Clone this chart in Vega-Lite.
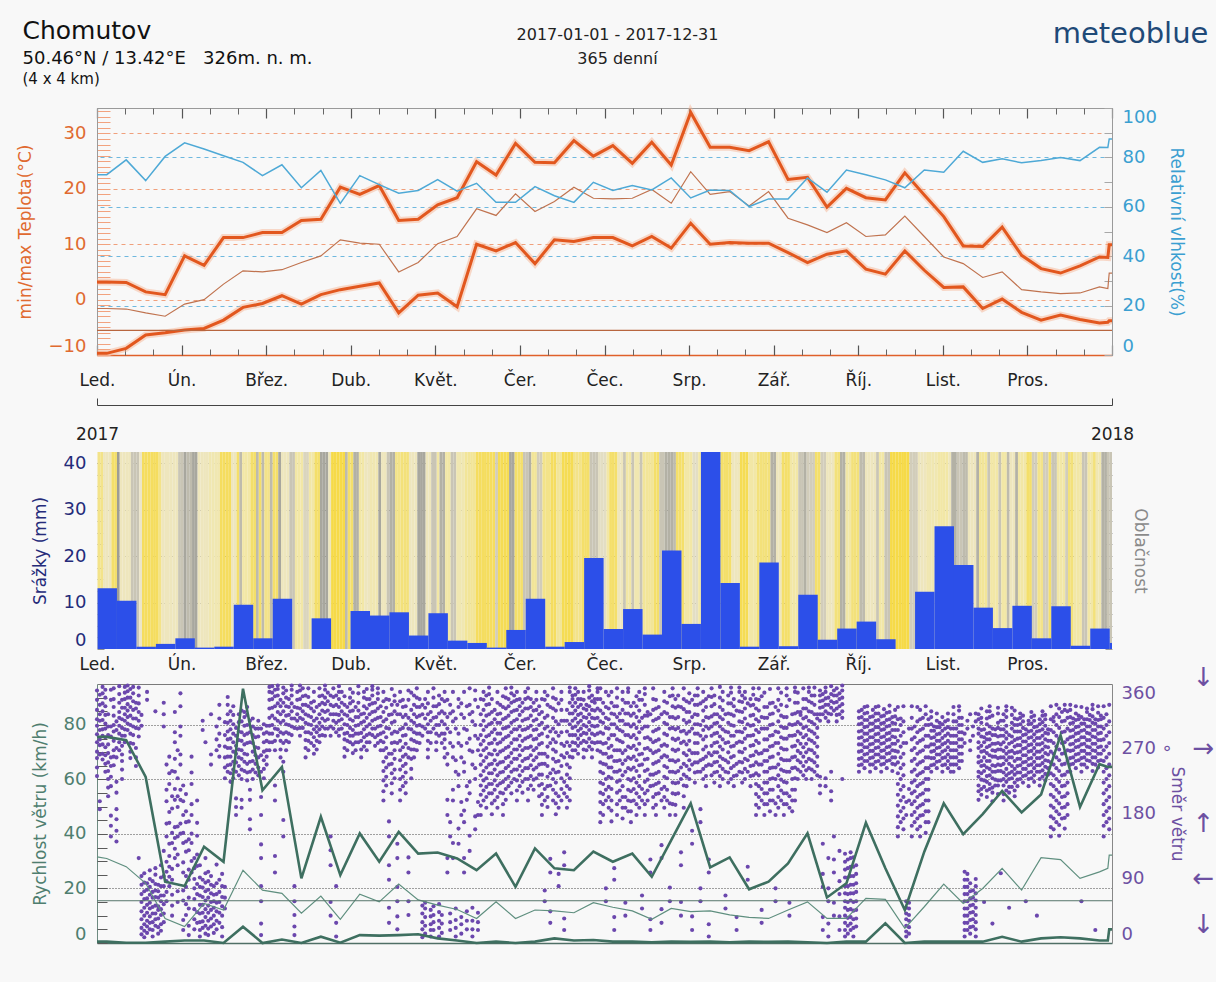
{
"$schema": "https://vega.github.io/schema/vega-lite/v6.json",
"width": 1015,
"height": 835,
"autosize": {"type": "none"},
"padding": {"left": 97, "top": 108, "right": 104, "bottom": 39},
"background": "#f8f8f8",
"config": {"view": {"stroke": null}, "font": "DejaVu Sans", "axis": {"labelFont": "DejaVu Sans", "titleFont": "DejaVu Sans", "titleFontWeight": "normal", "labelOverlap": false, "grid": false}},
"datasets": {
"wk": [
{"d":0,"tmax":3.2,"tmean":-1.6,"tmin":-9.7,"rh":73.0,"vmax":75.6,"vmean":31.6,"vmin":0.5},
{"d":3.5,"tmax":3.2,"tmean":-1.6,"tmin":-9.7,"rh":73.0,"vmax":75.6,"vmean":31.0,"vmin":0.5},
{"d":10.5,"tmax":3.1,"tmean":-1.7,"tmin":-8.8,"rh":79.0,"vmax":74.4,"vmean":28.0,"vmin":0.1},
{"d":17.5,"tmax":1.4,"tmean":-2.4,"tmin":-6.4,"rh":70.6,"vmax":60.9,"vmean":21.9,"vmin":0.1},
{"d":24.5,"tmax":0.9,"tmean":-3.0,"tmin":-6.0,"rh":80.4,"vmax":22.5,"vmean":9.0,"vmin":0.5},
{"d":31.5,"tmax":7.9,"tmean":-0.8,"tmin":-5.5,"rh":85.9,"vmax":20.9,"vmean":6.0,"vmin":0.9},
{"d":38.5,"tmax":6.2,"tmean":0.0,"tmin":-5.2,"rh":83.4,"vmax":35.3,"vmean":14.5,"vmin":0.9},
{"d":45.5,"tmax":11.2,"tmean":2.8,"tmin":-3.7,"rh":80.7,"vmax":29.8,"vmean":12.1,"vmin":0},
{"d":52.5,"tmax":11.2,"tmean":5.2,"tmin":-1.4,"rh":78.0,"vmax":93.3,"vmean":26.7,"vmin":6.0},
{"d":59.5,"tmax":12.1,"tmean":5.0,"tmin":-0.7,"rh":72.6,"vmax":56.0,"vmean":19.4,"vmin":0},
{"d":66.5,"tmax":12.1,"tmean":5.4,"tmin":0.7,"rh":77.0,"vmax":64.6,"vmean":18.2,"vmin":1.3},
{"d":73.5,"tmax":14.3,"tmean":6.7,"tmin":-0.8,"rh":67.7,"vmax":23.7,"vmean":10.9,"vmin":0},
{"d":80.5,"tmax":14.5,"tmean":7.9,"tmin":0.9,"rh":74.7,"vmax":46.3,"vmean":17.2,"vmin":2.3},
{"d":87.5,"tmax":20.3,"tmean":10.8,"tmin":1.8,"rh":61.4,"vmax":24.9,"vmean":8.7,"vmin":0.1},
{"d":94.5,"tmax":19.0,"tmean":10.2,"tmin":2.4,"rh":72.6,"vmax":40.2,"vmean":17.9,"vmin":2.9},
{"d":101.5,"tmax":20.6,"tmean":10.0,"tmin":3.0,"rh":69.0,"vmax":29.8,"vmean":15.1,"vmin":2.7},
{"d":108.5,"tmax":14.3,"tmean":5.0,"tmin":-2.4,"rh":65.5,"vmax":40.8,"vmean":21.6,"vmin":2.9},
{"d":115.5,"tmax":14.5,"tmean":6.7,"tmin":0.8,"rh":66.6,"vmax":32.8,"vmean":15.8,"vmin":3.2},
{"d":122.5,"tmax":17.1,"tmean":10.1,"tmin":1.2,"rh":71.0,"vmax":33.2,"vmean":13.9,"vmin":1.7},
{"d":129.5,"tmax":18.4,"tmean":11.4,"tmin":-1.3,"rh":66.3,"vmax":31.0,"vmean":12.3,"vmin":0.9},
{"d":136.5,"tmax":24.9,"tmean":16.4,"tmin":10.0,"rh":69.5,"vmax":26.7,"vmean":9.0,"vmin":0},
{"d":143.5,"tmax":22.5,"tmean":15.2,"tmin":8.8,"rh":61.8,"vmax":32.8,"vmean":15.1,"vmin":0.5},
{"d":150.5,"tmax":28.2,"tmean":19.1,"tmin":10.3,"rh":61.8,"vmax":20.6,"vmean":9.0,"vmin":0},
{"d":157.5,"tmax":24.8,"tmean":15.9,"tmin":6.5,"rh":68.2,"vmax":34.7,"vmean":12.1,"vmin":0.5},
{"d":164.5,"tmax":24.7,"tmean":17.7,"tmin":10.8,"rh":64.5,"vmax":27.4,"vmean":11.8,"vmin":1.7},
{"d":171.5,"tmax":28.7,"tmean":20.3,"tmin":10.5,"rh":61.8,"vmax":26.7,"vmean":11.1,"vmin":0.9},
{"d":178.5,"tmax":25.9,"tmean":18.3,"tmin":11.2,"rh":69.9,"vmax":33.5,"vmean":14.8,"vmin":1.1},
{"d":185.5,"tmax":27.8,"tmean":18.2,"tmin":11.2,"rh":66.6,"vmax":29.8,"vmean":13.1,"vmin":0.5},
{"d":192.5,"tmax":24.6,"tmean":18.3,"tmin":9.7,"rh":68.6,"vmax":32.8,"vmean":11.8,"vmin":0.5},
{"d":199.5,"tmax":28.4,"tmean":19.9,"tmin":11.4,"rh":66.8,"vmax":24.3,"vmean":8.7,"vmin":0.3},
{"d":206.5,"tmax":24.3,"tmean":17.4,"tmin":9.3,"rh":71.7,"vmax":37.7,"vmean":12.7,"vmin":0.5},
{"d":213.5,"tmax":33.8,"tmean":23.1,"tmin":13.8,"rh":63.6,"vmax":51.2,"vmean":11.5,"vmin":0.4},
{"d":220.5,"tmax":27.5,"tmean":19.0,"tmin":10.0,"rh":66.8,"vmax":27.7,"vmean":11.8,"vmin":0.5},
{"d":227.5,"tmax":27.5,"tmean":19.5,"tmin":10.3,"rh":66.6,"vmax":31.4,"vmean":10.3,"vmin":0.3},
{"d":234.5,"tmax":26.9,"tmean":16.9,"tmin":10.2,"rh":60.1,"vmax":19.7,"vmean":9.4,"vmin":0.5},
{"d":241.5,"tmax":28.5,"tmean":19.5,"tmin":10.2,"rh":63.2,"vmax":22.5,"vmean":9.0,"vmin":0.4},
{"d":248.5,"tmax":21.7,"tmean":14.7,"tmin":8.5,"rh":63.2,"vmax":29.2,"vmean":12.1,"vmin":0.5},
{"d":255.5,"tmax":22.1,"tmean":13.5,"tmin":6.7,"rh":71.7,"vmax":40.2,"vmean":15.1,"vmin":0.3},
{"d":262.5,"tmax":16.7,"tmean":12.1,"tmin":8.2,"rh":65.9,"vmax":16.7,"vmean":9.0,"vmin":0},
{"d":269.5,"tmax":20.1,"tmean":13.9,"tmin":8.8,"rh":74.9,"vmax":21.9,"vmean":9.0,"vmin":0.5},
{"d":276.5,"tmax":18.4,"tmean":11.4,"tmin":5.5,"rh":73.0,"vmax":44.1,"vmean":16.4,"vmin":0.5},
{"d":283.5,"tmax":18.0,"tmean":11.7,"tmin":4.6,"rh":70.9,"vmax":27.4,"vmean":16.0,"vmin":7.2},
{"d":290.5,"tmax":22.9,"tmean":15.1,"tmin":8.8,"rh":67.7,"vmax":12.1,"vmean":5.4,"vmin":0},
{"d":297.5,"tmax":18.9,"tmean":11.4,"tmin":5.3,"rh":74.9,"vmax":33.5,"vmean":13.3,"vmin":0.5},
{"d":304.5,"tmax":15.0,"tmean":7.7,"tmin":2.2,"rh":74.0,"vmax":51.2,"vmean":21.6,"vmin":0.5},
{"d":311.5,"tmax":9.7,"tmean":6.5,"tmin":2.3,"rh":82.5,"vmax":39.9,"vmean":14.5,"vmin":0.5},
{"d":318.5,"tmax":9.6,"tmean":4.0,"tmin":-1.6,"rh":78.0,"vmax":47.3,"vmean":20.0,"vmin":0.5},
{"d":325.5,"tmax":13.1,"tmean":5.0,"tmin":0.1,"rh":79.4,"vmax":55.8,"vmean":27.4,"vmin":2.3},
{"d":332.5,"tmax":8.0,"tmean":1.8,"tmin":-2.3,"rh":77.8,"vmax":47.9,"vmean":19.4,"vmin":0.5},
{"d":339.5,"tmax":5.6,"tmean":1.4,"tmin":-3.7,"rh":78.7,"vmax":54.5,"vmean":31.3,"vmin":1.7},
{"d":346.5,"tmax":4.8,"tmean":1.1,"tmin":-2.8,"rh":80.0,"vmax":76.2,"vmean":30.6,"vmin":2.1},
{"d":353.5,"tmax":6.1,"tmean":1.2,"tmin":-3.6,"rh":78.7,"vmax":49.9,"vmean":23.7,"vmin":1.7},
{"d":360.5,"tmax":7.7,"tmean":2.3,"tmin":-4.2,"rh":84.1,"vmax":65.6,"vmean":26.1,"vmin":0.9},
{"d":363.5,"tmax":7.6,"tmean":2.0,"tmin":-4.1,"rh":84.0,"vmax":64.6,"vmean":27.4,"vmin":0.9},
{"d":364,"tmax":9.9,"tmean":4.8,"tmin":-3.8,"rh":87.5,"vmax":64.6,"vmean":32.2,"vmin":5.0},
{"d":365,"tmax":9.9,"tmean":4.8,"tmin":-3.8,"rh":87.5,"vmax":64.6,"vmean":32.2,"vmin":5.0}
],
"pr": [{"d":0,"p":13.1},{"d":7,"p":10.4},{"d":14,"p":0.5},{"d":21,"p":1.1},{"d":28,"p":2.3},{"d":35,"p":0.3},{"d":42,"p":0.5},{"d":49,"p":9.5},{"d":56,"p":2.3},{"d":63,"p":10.8},{"d":70,"p":0},{"d":77,"p":6.6},{"d":84,"p":0},{"d":91,"p":8.2},{"d":98,"p":7.2},{"d":105,"p":7.9},{"d":112,"p":2.9},{"d":119,"p":7.7},{"d":126,"p":1.8},{"d":133,"p":1.3},{"d":140,"p":0.3},{"d":147,"p":4.1},{"d":154,"p":10.8},{"d":161,"p":0.5},{"d":168,"p":1.5},{"d":175,"p":19.6},{"d":182,"p":4.3},{"d":189,"p":8.6},{"d":196,"p":3.1},{"d":203,"p":21.2},{"d":210,"p":5.4},{"d":217,"p":44},{"d":224,"p":14.2},{"d":231,"p":0.5},{"d":238,"p":18.6},{"d":245,"p":0.6},{"d":252,"p":11.7},{"d":259,"p":2.0},{"d":266,"p":4.4},{"d":273,"p":5.9},{"d":280,"p":2.1},{"d":287,"p":0},{"d":294,"p":12.3},{"d":301,"p":26.4},{"d":308,"p":18.1},{"d":315,"p":8.9},{"d":322,"p":4.5},{"d":329,"p":9.3},{"d":336,"p":2.3},{"d":343,"p":9.2},{"d":350,"p":0.7},{"d":357,"p":4.4},{"d":364,"p":1.3}],
"cl": [{"d":0,"c":30},{"d":1,"c":30},{"d":2,"c":50},{"d":3,"c":50},{"d":4,"c":50},{"d":5,"c":20},{"d":6,"c":20},{"d":7,"c":95},{"d":8,"c":50},{"d":9,"c":50},{"d":10,"c":50},{"d":11,"c":50},{"d":12,"c":75},{"d":13,"c":75},{"d":14,"c":75},{"d":15,"c":55},{"d":16,"c":15},{"d":17,"c":15},{"d":18,"c":15},{"d":19,"c":15},{"d":20,"c":15},{"d":21,"c":15},{"d":22,"c":30},{"d":23,"c":50},{"d":24,"c":50},{"d":25,"c":50},{"d":26,"c":50},{"d":27,"c":50},{"d":28,"c":50},{"d":29,"c":75},{"d":30,"c":75},{"d":31,"c":90},{"d":32,"c":80},{"d":33,"c":80},{"d":34,"c":90},{"d":35,"c":90},{"d":36,"c":50},{"d":37,"c":50},{"d":38,"c":50},{"d":39,"c":50},{"d":40,"c":45},{"d":41,"c":45},{"d":42,"c":45},{"d":43,"c":45},{"d":44,"c":15},{"d":45,"c":15},{"d":46,"c":15},{"d":47,"c":15},{"d":48,"c":50},{"d":49,"c":50},{"d":50,"c":20},{"d":51,"c":80},{"d":52,"c":40},{"d":53,"c":40},{"d":54,"c":40},{"d":55,"c":20},{"d":56,"c":20},{"d":57,"c":80},{"d":58,"c":20},{"d":59,"c":80},{"d":60,"c":30},{"d":61,"c":30},{"d":62,"c":80},{"d":63,"c":20},{"d":64,"c":20},{"d":65,"c":90},{"d":66,"c":50},{"d":67,"c":50},{"d":68,"c":50},{"d":69,"c":75},{"d":70,"c":75},{"d":71,"c":40},{"d":72,"c":40},{"d":73,"c":40},{"d":74,"c":65},{"d":75,"c":65},{"d":76,"c":40},{"d":77,"c":40},{"d":78,"c":20},{"d":79,"c":20},{"d":80,"c":90},{"d":81,"c":90},{"d":82,"c":90},{"d":83,"c":50},{"d":84,"c":5},{"d":85,"c":5},{"d":86,"c":5},{"d":87,"c":5},{"d":88,"c":5},{"d":89,"c":80},{"d":90,"c":20},
{"d":91,"c":20},{"d":92,"c":85},{"d":93,"c":85},{"d":94,"c":40},{"d":95,"c":40},{"d":96,"c":50},{"d":97,"c":50},{"d":98,"c":45},{"d":99,"c":45},{"d":100,"c":45},{"d":101,"c":90},{"d":102,"c":50},{"d":103,"c":50},{"d":104,"c":75},{"d":105,"c":85},{"d":106,"c":85},{"d":107,"c":30},{"d":108,"c":30},{"d":109,"c":25},{"d":110,"c":25},{"d":111,"c":25},{"d":112,"c":50},{"d":113,"c":50},{"d":114,"c":50},{"d":115,"c":90},{"d":116,"c":90},{"d":117,"c":90},{"d":118,"c":50},{"d":119,"c":50},{"d":120,"c":75},{"d":121,"c":75},{"d":122,"c":40},{"d":123,"c":85},{"d":124,"c":85},{"d":125,"c":40},{"d":126,"c":40},{"d":127,"c":75},{"d":128,"c":75},{"d":129,"c":45},{"d":130,"c":45},{"d":131,"c":45},{"d":132,"c":35},{"d":133,"c":35},{"d":134,"c":35},{"d":135,"c":35},{"d":136,"c":15},{"d":137,"c":15},{"d":138,"c":15},{"d":139,"c":15},{"d":140,"c":15},{"d":141,"c":15},{"d":142,"c":15},{"d":143,"c":70},{"d":144,"c":10},{"d":145,"c":10},{"d":146,"c":10},{"d":147,"c":10},{"d":148,"c":90},{"d":149,"c":90},{"d":150,"c":20},{"d":151,"c":20},{"d":152,"c":20},{"d":153,"c":75},{"d":154,"c":75},{"d":155,"c":85},{"d":156,"c":35},{"d":157,"c":35},{"d":158,"c":70},{"d":159,"c":70},{"d":160,"c":30},{"d":161,"c":30},{"d":162,"c":30},{"d":163,"c":15},{"d":164,"c":15},{"d":165,"c":35},{"d":166,"c":35},{"d":167,"c":10},{"d":168,"c":10},{"d":169,"c":10},{"d":170,"c":10},{"d":171,"c":30},{"d":172,"c":30},{"d":173,"c":30},{"d":174,"c":20},{"d":175,"c":20},{"d":176,"c":20},{"d":177,"c":75},{"d":178,"c":75},{"d":179,"c":75},{"d":180,"c":60},{"d":181,"c":60},{"d":182,"c":60},
{"d":183,"c":40},{"d":184,"c":20},{"d":185,"c":20},{"d":186,"c":20},{"d":187,"c":50},{"d":188,"c":50},{"d":189,"c":75},{"d":190,"c":40},{"d":191,"c":40},{"d":192,"c":75},{"d":193,"c":45},{"d":194,"c":45},{"d":195,"c":75},{"d":196,"c":35},{"d":197,"c":35},{"d":198,"c":35},{"d":199,"c":35},{"d":200,"c":20},{"d":201,"c":20},{"d":202,"c":75},{"d":203,"c":75},{"d":204,"c":85},{"d":205,"c":85},{"d":206,"c":85},{"d":207,"c":80},{"d":208,"c":20},{"d":209,"c":20},{"d":210,"c":20},{"d":211,"c":40},{"d":212,"c":40},{"d":213,"c":40},{"d":214,"c":60},{"d":215,"c":60},{"d":216,"c":40},{"d":217,"c":40},{"d":218,"c":40},{"d":219,"c":40},{"d":220,"c":40},{"d":221,"c":40},{"d":222,"c":40},{"d":223,"c":40},{"d":224,"c":20},{"d":225,"c":20},{"d":226,"c":20},{"d":227,"c":20},{"d":228,"c":50},{"d":229,"c":50},{"d":230,"c":50},{"d":231,"c":10},{"d":232,"c":10},{"d":233,"c":10},{"d":234,"c":40},{"d":235,"c":40},{"d":236,"c":40},{"d":237,"c":25},{"d":238,"c":25},{"d":239,"c":25},{"d":240,"c":25},{"d":241,"c":25},{"d":242,"c":85},{"d":243,"c":85},{"d":244,"c":50},{"d":245,"c":50},{"d":246,"c":20},{"d":247,"c":20},{"d":248,"c":20},{"d":249,"c":40},{"d":250,"c":40},{"d":251,"c":40},{"d":252,"c":75},{"d":253,"c":75},{"d":254,"c":85},{"d":255,"c":70},{"d":256,"c":70},{"d":257,"c":70},{"d":258,"c":20},{"d":259,"c":20},{"d":260,"c":70},{"d":261,"c":70},{"d":262,"c":50},{"d":263,"c":50},{"d":264,"c":50},{"d":265,"c":25},{"d":266,"c":25},{"d":267,"c":85},{"d":268,"c":85},{"d":269,"c":40},{"d":270,"c":40},{"d":271,"c":25},{"d":272,"c":25},{"d":273,"c":25},
{"d":274,"c":80},{"d":275,"c":80},{"d":276,"c":50},{"d":277,"c":50},{"d":278,"c":50},{"d":279,"c":50},{"d":280,"c":75},{"d":281,"c":40},{"d":282,"c":40},{"d":283,"c":75},{"d":284,"c":75},{"d":285,"c":5},{"d":286,"c":5},{"d":287,"c":5},{"d":288,"c":5},{"d":289,"c":5},{"d":290,"c":5},{"d":291,"c":5},{"d":292,"c":70},{"d":293,"c":70},{"d":294,"c":70},{"d":295,"c":50},{"d":296,"c":50},{"d":297,"c":50},{"d":298,"c":45},{"d":299,"c":45},{"d":300,"c":45},{"d":301,"c":45},{"d":302,"c":40},{"d":303,"c":40},{"d":304,"c":40},{"d":305,"c":40},{"d":306,"c":50},{"d":307,"c":85},{"d":308,"c":85},{"d":309,"c":75},{"d":310,"c":75},{"d":311,"c":80},{"d":312,"c":80},{"d":313,"c":50},{"d":314,"c":50},{"d":315,"c":50},{"d":316,"c":85},{"d":317,"c":35},{"d":318,"c":35},{"d":319,"c":35},{"d":320,"c":75},{"d":321,"c":40},{"d":322,"c":40},{"d":323,"c":40},{"d":324,"c":75},{"d":325,"c":40},{"d":326,"c":40},{"d":327,"c":80},{"d":328,"c":50},{"d":329,"c":50},{"d":330,"c":85},{"d":331,"c":40},{"d":332,"c":40},{"d":333,"c":40},{"d":334,"c":20},{"d":335,"c":20},{"d":336,"c":70},{"d":337,"c":70},{"d":338,"c":30},{"d":339,"c":30},{"d":340,"c":70},{"d":341,"c":70},{"d":342,"c":20},{"d":343,"c":75},{"d":344,"c":75},{"d":345,"c":40},{"d":346,"c":40},{"d":347,"c":40},{"d":348,"c":70},{"d":349,"c":25},{"d":350,"c":25},{"d":351,"c":40},{"d":352,"c":40},{"d":353,"c":40},{"d":354,"c":75},{"d":355,"c":75},{"d":356,"c":40},{"d":357,"c":40},{"d":358,"c":25},{"d":359,"c":45},{"d":360,"c":45},{"d":361,"c":85},{"d":362,"c":85},{"d":363,"c":75},{"d":364,"c":75}],
"wd": [
{"d":0,"w":[232,244,257,266,279,290,302,311,324,338,351]},{"d":1,"w":[186,197,262,275,283,296,309,318,331,345]},{"d":2,"w":[255,263,276,288,297,310,322,333,347,356]},{"d":3,"w":[238,249,261,272,286,298,305,317,329,341,352]},{"d":4,"w":[204,216,228,239,251,264,276,289,301,318]},{"d":5,"w":[148,163,177,218,231,246,258,287,301,338,352]},{"d":6,"w":[247,259,268,281,294,303,316,328,339,354]},{"d":7,"w":[141,156,172,186,209,224,258,271,296,308]},{"d":8,"w":[268,279,291,302,313,321,334,346,357]},{"d":9,"w":[228,241,253,262,274,288,299,311,327,338]},
{"d":10,"w":[279,288,297,309,318,327,339,348,356]},{"d":11,"w":[296,305,314,323,332,341,350,358]},{"d":12,"w":[257,266,278,291,303,316,328,341,353]},{"d":13,"w":[277,289,301,312,324,336,347,356]},{"d":14,"w":[246,258,271,299,312,326,334]},{"d":15,"w":[118,287,298,309,321,333,344,355]},{"d":16,"w":[12,21,33,44,57,68,81,93,302,317]},{"d":17,"w":[8,17,26,38,49,61,72,84,97]},{"d":18,"w":[14,23,31,42,53,62,74,83,338,349]},{"d":19,"w":[19,28,37,48,56,67,78,89,101]},
{"d":20,"w":[9,18,29,41,50,63,71,86]},{"d":21,"w":[24,33,41,52,64,73,82,95,104,322]},{"d":22,"w":[13,22,34,46,51,63,72,81]},{"d":23,"w":[17,26,39,47,58,66,79,91,108]},{"d":24,"w":[29,41,54,66,79,93,128,301,318,334]},{"d":25,"w":[58,71,86,99,113,148,166,197,213,248]},{"d":26,"w":[79,92,106,121,138,167,182,221,236,259]},{"d":27,"w":[38,52,67,88,103,139,153,187,204,239]},{"d":28,"w":[118,131,146,161,199,214,238,256,279,293,321]},{"d":29,"w":[57,72,108,123,148,162,189,204,229,268]},
{"d":30,"w":[152,166,199,213,248,262,288,301,329,347]},{"d":31,"w":[18,32,59,73,98,112,139,153,178,197,219]},{"d":32,"w":[39,54,78,93,127,141,168,183,207]},{"d":33,"w":[11,24,48,63,88,102,129,144,169]},{"d":34,"w":[98,114,139,152,178,193,221,237,259]},{"d":35,"w":[19,33,47,61,76,89,104,118]},{"d":36,"w":[28,43,68,82,107,123,149,167,198]},{"d":37,"w":[9,18,29,41,53,66,78,91,108]},{"d":38,"w":[21,30,42,53,64,77,88,296,309]},{"d":39,"w":[13,24,36,47,59,72,84,97,118,279]},
{"d":40,"w":[11,20,31,42,52,63,74,86,99]},{"d":41,"w":[23,34,46,57,69,81,93,248,262,318]},{"d":42,"w":[14,26,38,49,58,67,79]},{"d":43,"w":[19,31,44,56,68,83,109,268,283,301]},{"d":44,"w":[28,42,57,71,88,259,274,291,312,331]},{"d":45,"w":[9,22,38,51,64,79,96]},{"d":46,"w":[48,63,78,229,244,258,273,289,307]},{"d":47,"w":[238,247,259,271,283,294,306,318,331,342]},{"d":48,"w":[224,236,248,259,271,284,297,309,322]},{"d":49,"w":[229,241,252,266,279,291,304,317,329]},
{"d":50,"w":[178,189,201,238,251,263,274,288,299]},{"d":51,"w":[233,246,258,269,282,294,307,318]},{"d":52,"w":[188,199,228,241,256,268,281,293,308,323]},{"d":53,"w":[239,252,263,276,289,302,314,321]},{"d":54,"w":[226,237,249,262,278,291,303,317,328]},{"d":55,"w":[158,172,199,213,238,252,279,293,309]},{"d":56,"w":[228,241,253,266,278,289,301,312]},{"d":57,"w":[237,249,261,272,286,298]},{"d":58,"w":[233,244,258,271,287,298,309]},{"d":59,"w":[11,27,58,79,118,137,178,203,238,261,298]},
{"d":60,"w":[229,242,254,266,279,291,304]},{"d":61,"w":[248,259,268,281,293,302]},{"d":62,"w":[268,279,291,302,313,326,338,349,356]},{"d":63,"w":[279,291,303,316,327,339,348,357]},{"d":64,"w":[98,121,198,219,268,281,298,312,329,343,352]},{"d":65,"w":[288,297,309,321,333,344,353,358]},{"d":66,"w":[258,269,281,293,306,318,329,338]},{"d":67,"w":[148,171,238,252,278,291,309,322,334,347,355]},{"d":68,"w":[268,281,293,304,316,329,341,351]},{"d":69,"w":[279,291,303,317,328,339]},
{"d":70,"w":[289,301,312,322,333,344,352,358]},{"d":71,"w":[11,23,39,58,79,299,312,328]},{"d":72,"w":[298,309,318,327,338,349]},{"d":73,"w":[288,299,313,326,339,351,358]},{"d":74,"w":[299,311,322,331,343,354]},{"d":75,"w":[258,271,282,293,306,318,331,344]},{"d":76,"w":[268,281,293,304,316,329,342,354]},{"d":77,"w":[278,291,303,314,326,334]},{"d":78,"w":[263,274,286,297,309,322,336,349]},{"d":79,"w":[269,281,293,301,312,328]},
{"d":80,"w":[279,288,297,306,318,331,343,354]},{"d":81,"w":[289,301,312,323,334,344]},{"d":82,"w":[288,298,309,321,332,341,352,358]},{"d":83,"w":[298,311,323,336,348]},{"d":84,"w":[38,57,108,129,148,288,301,318,331,344]},{"d":85,"w":[298,309,318,329,342,354]},{"d":86,"w":[9,28,79,293,306,318,331,344]},{"d":87,"w":[288,297,309,317,328,339,349,357]},{"d":88,"w":[298,311,322,334,349]},{"d":89,"w":[259,271,283,291,304,318,331,343]},
{"d":90,"w":[268,281,292,303,316,328]},{"d":91,"w":[279,288,299,311,322,333,341,353]},{"d":92,"w":[264,276,288,296,309,323,336,348]},{"d":93,"w":[268,279,291,302,314,328]},{"d":94,"w":[279,291,303,314,323,334,347,357]},{"d":95,"w":[258,269,281,292,306,318]},{"d":96,"w":[273,286,297,308,319,329,341,349]},{"d":97,"w":[268,279,289,301,313,326,339,353]},{"d":98,"w":[279,291,304,318,331,339]},{"d":99,"w":[289,298,309,321,333,344,352,357]},
{"d":100,"w":[274,286,298,311,322,334]},{"d":101,"w":[278,289,301,313,326,339,347,354]},{"d":102,"w":[268,281,291,302,314,329]},{"d":103,"w":[198,211,226,239,252,268,279,293,308,321,336,349]},{"d":104,"w":[219,231,244,258,271,286,299,311,327,339]},{"d":105,"w":[28,49,88,108,148,169,248,263,298,317,338]},{"d":106,"w":[208,222,236,249,263,278,291,306,318,331,353]},{"d":107,"w":[229,241,256,268,279,294,308,322,336,344]},{"d":108,"w":[19,37,58,78,118,138,278,293,318,331]},{"d":109,"w":[198,213,228,241,254,268,281,297,318,336,349]},
{"d":110,"w":[218,231,246,259,272,288,299,314,328,338]},{"d":111,"w":[208,223,237,249,262,277,289,304,317,329]},{"d":112,"w":[39,58,98,119,258,271,298,313,338,351]},{"d":113,"w":[229,242,256,269,283,297,309,324,348]},{"d":114,"w":[258,269,281,293,306,318,331,344]},{"d":115,"w":[268,279,291,302,314,328,341,354]},{"d":116,"w":[278,291,303,316,328,339]},{"d":117,"w":[8,19,29,41,52,288,301,318,331]},{"d":118,"w":[13,24,36,48,56,298,312,327,339]},{"d":119,"w":[258,269,281,293,304,318,333,349]},
{"d":120,"w":[9,18,26,37,46,278,293,309,321]},{"d":121,"w":[18,29,39,51,298,313,329,341,354]},{"d":122,"w":[268,279,291,303,314,329]},{"d":123,"w":[9,21,31,43,54,288,303,319,332,344]},{"d":124,"w":[14,27,39,278,291,308,322,339]},{"d":125,"w":[258,271,283,291,304,319,336,349]},{"d":126,"w":[98,118,178,199,248,263,298,314,338]},{"d":127,"w":[18,29,41,148,168,278,293,319,331]},{"d":128,"w":[118,139,198,213,258,273,308,322,349]},{"d":129,"w":[9,21,32,48,238,254,298,312]},
{"d":130,"w":[138,159,218,234,278,291,328,339]},{"d":131,"w":[13,26,36,178,196,258,274,318,333]},{"d":132,"w":[98,118,168,184,238,251,298,313,349]},{"d":133,"w":[19,31,44,199,218,278,296,329]},{"d":134,"w":[128,149,208,224,268,284,318,331,354]},{"d":135,"w":[9,19,31,49,248,266,308,321]},{"d":136,"w":[158,176,228,243,288,303,338,351]},{"d":137,"w":[18,29,42,178,196,268,284,328]},{"d":138,"w":[178,191,206,219,233,248,261,276,289,303,318,339]},{"d":139,"w":[198,212,226,239,253,268,281,296,309,324,338,349]},
{"d":140,"w":[188,203,217,229,244,258,271,287,301,316,331,344]},{"d":141,"w":[208,221,236,248,263,277,289,304,318,332,346,355]},{"d":142,"w":[179,194,208,221,236,249,262,278,293,306,321,339]},{"d":143,"w":[198,213,226,241,254,268,283,297,311,324]},{"d":144,"w":[188,203,219,233,248,262,277,291,306,318,334,349]},{"d":145,"w":[209,222,237,251,266,279,291,306,319,331]},{"d":146,"w":[178,193,208,224,238,252,268,283,298,311,328,343]},{"d":147,"w":[199,214,228,243,257,271,286,299,313,326,341,354]},{"d":148,"w":[218,231,246,259,273,288,301,316,329,339]},{"d":149,"w":[208,223,238,251,264,278,293,306,321,334,347,355]},
{"d":150,"w":[228,241,256,269,283,297,309,323,336,344]},{"d":151,"w":[198,212,226,241,256,269,283,297,311,324,338,349]},{"d":152,"w":[218,233,246,261,274,288,301,317,329,339]},{"d":153,"w":[209,224,239,253,268,281,296,309,322,334]},{"d":154,"w":[228,243,256,271,284,297,311,326,339,349]},{"d":155,"w":[198,214,228,243,257,271,286,299,312,326,341,354]},{"d":156,"w":[219,232,247,261,273,288,302,316,328,339]},{"d":157,"w":[213,227,241,254,268,283,296,309,323,334]},{"d":158,"w":[229,244,258,271,284,297,311,324,338,349]},{"d":159,"w":[204,219,234,248,263,276,289,303,318,329]},
{"d":160,"w":[178,192,207,221,234,249,263,278,291,306,321,339]},{"d":161,"w":[58,73,198,214,249,263,298,313,338,349]},{"d":162,"w":[189,203,218,231,246,259,273,287,301,316,331,344]},{"d":163,"w":[28,44,98,117,219,236,278,294,328]},{"d":164,"w":[198,213,228,241,256,269,283,298,313,326,341,354]},{"d":165,"w":[179,194,208,223,237,252,266,279,293,308,323,339]},{"d":166,"w":[79,96,188,204,238,253,288,304,333]},{"d":167,"w":[198,214,229,246,261,277,293,309,324,338,349]},{"d":168,"w":[18,34,108,126,208,224,258,274,309]},{"d":169,"w":[188,203,218,234,248,264,279,294,309,324]},
{"d":170,"w":[198,214,229,244,259,274,289,304,319,334,349,355]},{"d":171,"w":[258,268,279,289,299,309,319,329,339,344]},{"d":172,"w":[268,278,289,301,312,323,334,345,354]},{"d":173,"w":[263,274,284,295,306,317,328,339,349]},{"d":174,"w":[278,289,298,309,319,331,339]},{"d":175,"w":[258,269,281,292,303,314,326,338,349]},{"d":176,"w":[268,279,291,301,313,324,331]},{"d":177,"w":[273,284,296,307,318,329,341,351,357]},{"d":178,"w":[258,269,279,291,302,313,324,336,344]},{"d":179,"w":[278,289,301,312,323,334,339]},
{"d":180,"w":[268,279,291,302,313,326,339,349,354]},{"d":181,"w":[168,181,196,209,223,238,251,266,279,293,308,323,339,354]},{"d":182,"w":[178,193,207,221,236,249,263,277,291,306,319,334]},{"d":183,"w":[58,76,198,213,228,248,263,278,299,313,328,349]},{"d":184,"w":[188,203,217,231,244,258,271,284,298,311,326,344]},{"d":185,"w":[169,184,198,214,229,244,259,274,289,304,319,334,349]},{"d":186,"w":[18,36,88,104,238,253,268,289,304,318,329]},{"d":187,"w":[178,193,209,224,238,253,268,283,299,314,329,341,354]},{"d":188,"w":[198,212,226,240,254,268,281,296,309,319]},{"d":189,"w":[173,188,203,218,233,249,264,279,294,309,324,338,349]},
{"d":190,"w":[38,56,188,203,238,254,268,289,304,319,334]},{"d":191,"w":[183,198,213,228,243,258,273,289,304,319,334,349,354]},{"d":192,"w":[168,183,197,211,226,241,256,271,286,301,316,329]},{"d":193,"w":[198,214,229,244,259,274,289,304,319,334]},{"d":194,"w":[178,193,208,223,239,254,269,284,299,314,329,343]},{"d":195,"w":[188,203,218,232,247,262,277,293,308,323,338,349]},{"d":196,"w":[48,66,198,214,248,263,298,313,338]},{"d":197,"w":[178,193,208,224,239,255,270,285,301,316,331,346,354]},{"d":198,"w":[198,212,227,241,256,271,286,301,316,321]},{"d":199,"w":[18,33,98,116,218,234,268,283,318]},
{"d":200,"w":[188,203,219,234,249,264,279,294,309,324,339,354]},{"d":201,"w":[178,192,207,221,236,251,266,281,296,311,326,338]},{"d":202,"w":[208,223,238,253,268,283,298,313,328]},{"d":203,"w":[28,47,118,136,198,214,258,274,318]},{"d":204,"w":[188,203,217,231,246,261,276,291,306,321,336,349]},{"d":205,"w":[198,213,229,244,259,274,289,304,319,334]},{"d":206,"w":[58,77,178,194,238,254,298,314,343]},{"d":207,"w":[193,208,223,238,254,269,284,299,314,329,344,354]},{"d":208,"w":[178,192,207,222,237,252,267,282,297,312,327,339]},{"d":209,"w":[208,223,239,254,269,284,299,314,329,344]},
{"d":210,"w":[38,57,108,126,228,244,278,294,328]},{"d":211,"w":[188,204,219,234,249,264,280,295,310,325,339,354]},{"d":212,"w":[218,231,246,261,276,291,306,321,336]},{"d":213,"w":[228,241,254,268,281,294,308,321,334,347]},{"d":214,"w":[18,37,138,156,248,264,298,314,338]},{"d":215,"w":[223,237,251,264,278,291,304,318,331,344]},{"d":216,"w":[238,251,264,278,291,304,317,331,344,354]},{"d":217,"w":[58,76,168,186,238,254,288,303,333]},{"d":218,"w":[228,242,256,269,283,296,309,323,336,349]},{"d":219,"w":[218,232,246,259,273,287,301,314,328,339]},
{"d":220,"w":[9,26,98,116,248,264,298,313,343]},{"d":221,"w":[233,247,261,274,288,301,315,329,342,354]},{"d":222,"w":[223,237,251,265,278,291,305,318,332,344]},{"d":223,"w":[238,252,265,279,292,306,318]},{"d":224,"w":[218,232,246,259,273,287,301,314,328,341,356]},{"d":225,"w":[228,242,256,269,283,297,311,324,337,349]},{"d":226,"w":[48,66,238,254,278,294,318]},{"d":227,"w":[223,237,251,265,279,293,306,319,333,344]},{"d":228,"w":[228,243,258,273,288,303,318,333,348,355]},{"d":229,"w":[218,232,246,260,274,288,302,316,329,339]},
{"d":230,"w":[18,36,233,249,278,294,323]},{"d":231,"w":[238,252,266,280,294,308,322,336,349,355]},{"d":232,"w":[223,237,251,265,279,293,307,321,335,344]},{"d":233,"w":[228,242,256,270,284,298,312,326,340,349]},{"d":234,"w":[88,106,238,254,288,304,333]},{"d":235,"w":[218,232,246,260,274,288,302,316,330,339]},{"d":236,"w":[233,247,261,275,289,303,317,331,345,354]},{"d":237,"w":[178,192,207,221,236,251,266,281,296,311,326,339]},{"d":238,"w":[188,203,218,233,248,263,278,293,308,323,338,354]},{"d":239,"w":[28,46,198,214,248,264,298,314,343]},
{"d":240,"w":[178,193,208,223,238,253,268,283,298,313,328,348]},{"d":241,"w":[193,208,223,238,253,268,283,298,313,328]},{"d":242,"w":[183,198,213,228,243,258,273,288,303,318,333,353]},{"d":243,"w":[198,213,229,244,259,274,289,304,319,334]},{"d":244,"w":[58,76,178,194,228,244,278,294,328]},{"d":245,"w":[188,203,218,233,248,263,278,293,308,323,338,354]},{"d":246,"w":[198,212,227,241,256,271,286,301,316,331,348]},{"d":247,"w":[178,193,208,224,239,254,269,284,299,314]},{"d":248,"w":[193,208,223,238,254,269,284,299,314,329,344,354]},{"d":249,"w":[38,56,188,204,238,254,288,304,338]},
{"d":250,"w":[183,198,213,228,243,258,273,288,303,318]},{"d":251,"w":[198,213,229,244,259,274,289,304,319,334,349,355]},{"d":252,"w":[228,241,254,267,281,294,307,321,334,348]},{"d":253,"w":[238,251,264,277,291,304,317,321]},{"d":254,"w":[233,246,259,272,286,299,312,326,339,354]},{"d":255,"w":[228,240,252,265,277,289,301,314,326,339]},{"d":256,"w":[243,256,269,283,296,309,322,336,349,355]},{"d":257,"w":[228,241,254,268,281,294,307,321,334,344]},{"d":258,"w":[238,251,264,278,291,304,318,331,344,355]},{"d":259,"w":[233,246,259,273,286,299,312,318]},
{"d":260,"w":[208,219,231,309,318,327,336,344,351]},{"d":261,"w":[18,36,78,96,138,318,328,337,346]},{"d":262,"w":[218,229,313,322,331,340,349,355]},{"d":263,"w":[9,27,58,76,118,308,319,331,341]},{"d":264,"w":[198,211,238,318,327,336,346,357]},{"d":265,"w":[38,56,98,116,148,323,334,344,351]},{"d":266,"w":[308,317,326,335,344,354]},{"d":267,"w":[18,37,68,86,128,318,329,339,347]},{"d":268,"w":[228,313,322,332,341,351,358]},{"d":269,"w":[9,18,28,38,49,58,69,79,91,102,113,124]},
{"d":270,"w":[13,24,35,46,57,68,79,91,104,116]},{"d":271,"w":[18,27,36,47,59,69,81,93,106,118,126]},{"d":272,"w":[9,21,33,45,57,69,81,93,106,119]},{"d":273,"w":[23,34,46,58,71,83,96,108]},{"d":274,"w":[238,247,256,266,276,285,294,304,313,322]},{"d":275,"w":[248,257,267,276,286,295,305,314,324]},{"d":276,"w":[243,253,262,272,281,291,300,310,319,328]},{"d":277,"w":[253,263,272,282,291,301,310,320,329]},{"d":278,"w":[238,248,257,267,276,286,295,305,314]},{"d":279,"w":[248,258,267,277,286,296,305,315,324]},
{"d":280,"w":[243,252,262,271,281,290,300,309,319,328]},{"d":281,"w":[253,262,272,281,291,300,310,319,329]},{"d":282,"w":[238,248,258,267,277,286,296,305,315]},{"d":283,"w":[249,258,268,278,287,297,306,316,325]},{"d":284,"w":[243,253,263,272,282,291,301,310,320]},{"d":285,"w":[254,264,273,283,292,302,311,321,330]},{"d":286,"w":[239,249,258,268,277,287,296,306,314]},{"d":287,"w":[248,258,267,277,286,296,305,315,324]},{"d":288,"w":[148,161,176,191,206,221,236,251,266,281,296,311,328]},{"d":289,"w":[168,183,198,213,228,243,258,273,288,303,312]},
{"d":290,"w":[158,173,188,203,218,233,248,263,278,293,308,329]},{"d":291,"w":[9,16,24,33,41,49,58,178,196,278]},{"d":292,"w":[13,22,31,39,48,56,198,214,298]},{"d":293,"w":[148,163,178,193,208,223,238,253,268,283,298,313,329]},{"d":294,"w":[168,182,197,211,226,241,256,271,286,301]},{"d":295,"w":[158,173,188,203,218,233,248,263,278,293,308,328]},{"d":296,"w":[148,162,177,191,206,221,236,251,266,281,296,311,324]},{"d":297,"w":[178,193,208,223,238,253,268,283,298,313]},{"d":298,"w":[153,168,183,198,213,228,243,258,273,288,303,318,329]},{"d":299,"w":[168,183,198,213,228,243,258,273,288,303,311]},
{"d":300,"w":[238,247,257,266,276,285,295,304,314,322]},{"d":301,"w":[248,257,267,276,286,295,301]},{"d":302,"w":[243,252,262,271,281,290,300,309,319]},{"d":303,"w":[253,262,272,281,291,300,306]},{"d":304,"w":[238,247,257,266,276,285,295,304,314]},{"d":305,"w":[248,258,268,278,288,298,308]},{"d":306,"w":[243,253,262,272,281,291,300,310,319]},{"d":307,"w":[238,248,258,268,278,288,298]},{"d":308,"w":[238,248,258,268,278,288,298,308,318,328]},{"d":309,"w":[248,258,268,278,288,298,308]},
{"d":310,"w":[243,253,263,273,283,293,303,313,323,329]},{"d":311,"w":[253,263,273,283,293,303,313]},{"d":312,"w":[9,18,28,38,48,58,68,78,88,99,278,291]},{"d":313,"w":[18,28,38,48,58,68,78,88,96,298,309]},{"d":314,"w":[13,22,32,42,52,62,72,83,268,281,318]},{"d":315,"w":[23,33,43,53,63,73,288,301]},{"d":316,"w":[9,19,29,39,49,59,69,79,89,308,319]},{"d":317,"w":[199,211,219,231,238,251,259,271,279,291,298,311,318]},{"d":318,"w":[206,214,227,236,246,253,266,274,287,296,306,313,326]},{"d":319,"w":[57,217,226,239,247,258,267,279,286,297]},
{"d":320,"w":[203,212,224,232,244,253,264,272,283,291,304,312,322]},{"d":321,"w":[214,221,233,242,253,261,274,283,292,301,314,322,329]},{"d":322,"w":[27,197,209,216,229,238,247,259,268,277,289,298,316]},{"d":323,"w":[219,227,238,246,259,267,277,289,297]},{"d":324,"w":[207,219,226,239,248,257,269,278,287,299,306,319,327]},{"d":325,"w":[97,226,239,247,258,269,276,288,297,309]},{"d":326,"w":[198,207,219,228,237,249,258,267,279,288,297,309,318]},{"d":327,"w":[212,224,233,242,254,263,272,284,293,302,314,323,329]},{"d":328,"w":[49,209,217,228,236,249,258,266,277,289]},{"d":329,"w":[217,229,238,246,258,267,279,287,298,306,317,327]},
{"d":330,"w":[204,212,223,234,242,253,264,273,282,294,303,312,323]},{"d":331,"w":[218,227,237,246,256,265,275,284,294,303,311]},{"d":332,"w":[228,237,247,256,266,275,285,294,304,313,319]},{"d":333,"w":[223,232,242,251,261,270,280,289,299,308,316]},{"d":334,"w":[58,233,242,252,261,271,280,290,297]},{"d":335,"w":[218,228,237,247,256,266,275,285,294,304,309]},{"d":336,"w":[229,238,248,257,267,276,286,295,305,314,321]},{"d":337,"w":[224,233,243,252,262,271,281,290,300,309,316]},{"d":338,"w":[38,238,247,257,266,276,285,294,301]},{"d":339,"w":[219,228,238,247,257,266,276,285,295,304,311]},
{"d":340,"w":[231,240,250,259,269,278,288,297,307,316,322]},{"d":341,"w":[226,235,245,254,264,273,283,292,302,311,317]},{"d":342,"w":[234,243,253,262,272,281,291,297]},{"d":343,"w":[148,161,176,191,206,221,236,251,266,281,296,311,329]},{"d":344,"w":[158,173,188,203,218,233,248,263,278,293,308,314]},{"d":345,"w":[168,183,198,213,228,243,258,273,288,303,318,331]},{"d":346,"w":[149,164,179,194,209,224,239,254,269,284,299,314,326]},{"d":347,"w":[173,188,203,218,233,248,263,278,293,308,321]},{"d":348,"w":[159,174,189,204,219,234,249,264,279,294,309,324,331]},{"d":349,"w":[178,193,208,223,238,253,268,283,298,313,322]},
{"d":350,"w":[238,248,257,267,276,286,295,305,314,324,331]},{"d":351,"w":[249,258,268,277,287,296,306,312]},{"d":352,"w":[243,253,262,272,281,291,300,310,319,329]},{"d":353,"w":[254,263,273,282,292,301,311,316]},{"d":354,"w":[58,238,248,257,267,276,286,295,305,314,328]},{"d":355,"w":[248,258,267,277,286,296,305,311]},{"d":356,"w":[244,254,263,273,282,292,301,311,321,326]},{"d":357,"w":[253,263,272,282,291,301,310,317]},{"d":358,"w":[239,249,258,268,277,287,296,306,315,325,331]},{"d":359,"w":[18,248,258,267,277,286,296,305,311]},
{"d":360,"w":[244,253,263,272,282,291,301,310,320,329]},{"d":361,"w":[254,263,273,282,292,301,311,316]},{"d":362,"w":[148,163,178,193,208,223,238,253,268,283,298,313,329]},{"d":363,"w":[168,183,198,213,228,243,258,273,288,303,318]},{"d":364,"w":[158,173,188,203,218,233,248,263,278,293,308,331]}
]
},
"layer": [
{
"layer": [
{"data": {"name": "cl"}, "mark": {"type": "bar", "binSpacing": 0, "clip": true},
 "encoding": {
  "x": {"field": "d", "type": "quantitative", "bin": {"step": 1, "extent": [0, 365]}, "scale": {"domain": [0, 365], "nice": false, "zero": false},
        "axis": {"orient": "bottom", "offset": -588, "domain": true, "domainColor": "#e0602a", "domainWidth": 1.5, "ticks": false, "values": [0,30.4167,60.8333,91.25,121.6667,152.0833,182.5,212.9167,243.3333,273.75,304.1667,334.5833], "labelExpr": "['Led.','Ún.','Břez.','Dub.','Květ.','Čer.','Čec.','Srp.','Zář.','Říj.','List.','Pros.'][round(datum.value/30.4167)]", "labelFontSize": 17, "labelColor": "#222222", "labelPadding": 17, "labelFlush": false, "labelAlign": "center", "labelBaseline": "top", "grid": false, "title": null}},
  "y": {"datum": 0, "type": "quantitative", "scale": {"domain": [0, 42.4], "range": [541, 344], "nice": false, "zero": false, "clamp": true},
        "axis": {"orient": "right", "offset": -7, "values": [0,2.5,5,7.5,10,12.5,15,17.5,20,22.5,25,27.5,30,32.5,35,37.5,40], "tickSize": 7, "tickColor": "#9a9a9a", "domain": false, "labels": false, "grid": false, "title": "Oblačnost", "titleColor": "#8a8a8a", "titleFontSize": 17, "titlePadding": 18}},
  "y2": {"datum": 42.4},
  "color": {"field": "c", "type": "quantitative", "scale": {"domain": [0, 20, 40, 55, 75, 95], "range": ["#f7d83a", "#f4df6a", "#f2e7a6", "#ece6c8", "#c9c5b5", "#9e9d96"]}, "legend": null}
 }},
{"data": {"name": "pr"}, "mark": {"type": "bar", "binSpacing": 0, "clip": true, "color": "#2c4fe9"},
 "encoding": {
  "x": {"field": "d", "type": "quantitative", "bin": {"step": 7, "extent": [0, 371]}, "scale": {"domain": [0, 365], "nice": false, "zero": false},
        "axis": {"orient": "top", "offset": -297, "domain": true, "domainColor": "#444444", "domainWidth": 1, "values": [0, 365], "ticks": true, "tickSize": 7, "tickColor": "#444444", "labels": false, "grid": false, "title": null}},
  "y": {"field": "p", "type": "quantitative", "scale": {"domain": [0, 42.4], "range": [541, 344], "nice": false, "zero": false, "clamp": true},
        "axis": {"orient": "left", "offset": -7, "values": [0,2.5,5,7.5,10,12.5,15,17.5,20,22.5,25,27.5,30,32.5,35,37.5,40], "tickSize": 7, "tickColor": "#8f8f8f", "domain": false, "labelExpr": "datum.value % 10 == 0 ? datum.label : ''", "labelPadding": 11, "labelFontSize": 18, "labelColor": "#252b7a", "labelFlush": true, "grid": true, "gridColor": "#666666", "gridDash": [5, 4], "gridOpacity": {"condition": {"test": "datum.value % 10 == 0 && datum.value > 0", "value": 0.8}, "value": 0}, "title": "Srážky (mm)", "titleColor": "#252b7a", "titleFontSize": 17, "titlePadding": 14}},
  "y2": {"datum": 0}
 }}
],
"resolve": {"axis": {"x": "independent", "y": "independent"}}
},
{
"data": {"name": "wk"},
"layer": [
{"mark": {"type": "line", "color": "#f6b08c", "strokeWidth": 7, "opacity": 0.45},
 "encoding": {
  "x": {"field": "d", "type": "quantitative", "scale": {"domain": [0, 365], "nice": false, "zero": false}, "axis": null},
  "y": {"field": "tmax", "type": "quantitative", "scale": {"domain": [-10, 34.6], "range": [247, 0], "nice": false, "zero": false}, "axis": null}
 }},
{"mark": {"type": "line", "color": "#f6b08c", "strokeWidth": 7, "opacity": 0.45},
 "encoding": {
  "x": {"field": "d", "type": "quantitative", "scale": {"domain": [0, 365], "nice": false, "zero": false}, "axis": null},
  "y": {"field": "tmin", "type": "quantitative", "scale": {"domain": [-10, 34.6], "range": [247, 0], "nice": false, "zero": false}, "axis": null}
 }},
{"mark": {"type": "line", "color": "#c0734f", "strokeWidth": 1.2},
 "encoding": {
  "x": {"field": "d", "type": "quantitative", "scale": {"domain": [0, 365], "nice": false, "zero": false},
        "axis": {"orient": "top", "offset": -10, "domain": false, "values": [0,30.4167,60.8333,91.25,121.6667,152.0833,182.5,212.9167,243.3333,273.75,304.1667,334.5833,365], "ticks": true, "tickSize": 10, "tickColor": "#555555", "tickWidth": 1.2, "labels": false, "grid": false, "title": "meteoblue", "titleFontSize": 29, "titleColor": "#1f4a78", "titleAlign": "center", "titleBaseline": "middle", "titleX": 1033, "titleY": -85}},
  "y": {"field": "tmean", "type": "quantitative", "scale": {"domain": [-10, 34.6], "range": [247, 0], "nice": false, "zero": false}, "axis": null}
 }},
{"mark": {"type": "line", "color": "#e2571e", "strokeWidth": 3},
 "encoding": {
  "x": {"field": "d", "type": "quantitative", "scale": {"domain": [0, 365], "nice": false, "zero": false},
        "axis": {"orient": "top", "offset": 0, "domain": true, "domainColor": "#9a9a9a", "domainWidth": 1, "ticks": false, "labels": false, "grid": false, "title": ["2017-01-01 - 2017-12-31", "365 denní"], "titleFontSize": 16, "titleColor": "#222222", "titleAlign": "center", "titleBaseline": "top", "titleLineHeight": 24, "titleX": 520, "titleY": -82}},
  "y": {"field": "tmax", "type": "quantitative", "scale": {"domain": [-10, 34.6], "range": [247, 0], "nice": false, "zero": false},
        "axis": {"orient": "left", "offset": -13, "values": [-10,-9,-8,-7,-6,-5,-4,-3,-2,-1,0,1,2,3,4,5,6,7,8,9,10,11,12,13,14,15,16,17,18,19,20,21,22,23,24,25,26,27,28,29,30,31,32,33,34], "tickSize": 13, "tickColor": "#f2a27e", "tickWidth": 1, "domain": false, "labelExpr": "datum.value % 10 == 0 ? datum.label : ''", "labelPadding": 11, "labelFontSize": 18, "labelColor": "#e06a30", "labelFlush": true, "grid": true, "gridColor": "#f0a07c", "gridDash": [4, 4], "gridWidth": 1, "gridOpacity": {"condition": {"test": "datum.value % 10 == 0 && datum.value > -10", "value": 1}, "value": 0}, "title": "min/max Teplota(°C)", "titleColor": "#e06a30", "titleFontSize": 17, "titlePadding": 14}}
 }},
{"mark": {"type": "line", "color": "#e2571e", "strokeWidth": 3},
 "encoding": {
  "x": {"field": "d", "type": "quantitative", "scale": {"domain": [0, 365], "nice": false, "zero": false},
        "axis": {"orient": "top", "offset": -6, "domain": false, "values": [10.1389,20.2778,40.5556,50.6944,70.9722,81.1111,101.3889,111.5278,131.8056,141.9444,162.2222,172.3611,192.6389,202.7778,223.0556,233.1944,253.4722,263.6111,283.8889,294.0278,314.3056,324.4444,344.7222,354.8611], "ticks": true, "tickSize": 6, "tickColor": "#666666", "labels": false, "grid": false, "title": "Chomutov", "titleFontSize": 25, "titleColor": "#111111", "titleAlign": "left", "titleBaseline": "middle", "titleX": -75, "titleY": -84}},
  "y": {"field": "tmin", "type": "quantitative", "scale": {"domain": [-10, 34.6], "range": [247, 0], "nice": false, "zero": false},
        "axis": {"orient": "left", "domain": true, "domainColor": "#9a9a9a", "ticks": false, "labels": false, "grid": false, "title": null}}
 }}
],
"resolve": {"axis": {"x": "independent", "y": "independent"}}
},
{
"layer": [
{"data": {"name": "wk"}, "mark": {"type": "line", "color": "#4ea9d6", "strokeWidth": 1.5},
 "encoding": {
  "x": {"field": "d", "type": "quantitative", "scale": {"domain": [0, 365], "nice": false, "zero": false},
        "axis": {"orient": "bottom", "offset": -598, "domain": false, "values": [0,30.4167,60.8333,91.25,121.6667,152.0833,182.5,212.9167,243.3333,273.75,304.1667,334.5833,365], "ticks": true, "tickSize": 10, "tickColor": "#555555", "tickWidth": 1.2, "labels": false, "grid": false, "title": "50.46°N / 13.42°E\u00a0\u00a0\u00a0326m. n. m.", "titleFontSize": 18, "titleColor": "#111111", "titleAlign": "left", "titleBaseline": "middle", "titleX": -75, "titleY": -287}},
  "y": {"field": "rh", "type": "quantitative", "scale": {"domain": [0, 100], "range": [247, 0], "nice": false, "zero": false},
        "axis": {"orient": "right", "offset": -8, "values": [0,10,20,30,40,50,60,70,80,90,100], "tickSize": 8, "tickColor": "#a8a8a8", "domain": false, "labelExpr": "datum.value % 20 == 0 ? datum.label : ''", "labelPadding": 10, "labelFontSize": 18, "labelColor": "#3b9fd1", "labelFlush": true, "grid": true, "gridColor": "#6fb8de", "gridDash": [4, 4], "gridOpacity": {"condition": {"test": "datum.value % 20 == 0 && datum.value > 0 && datum.value < 100", "value": 1}, "value": 0}, "title": "Relativní vlhkost(%)", "titleColor": "#3b9fd1", "titleFontSize": 17, "titlePadding": 10}}
 }},
{"data": {"values": [{"h": 10, "a": 0, "b": 365}]}, "mark": {"type": "rule", "color": "#b8663f", "strokeWidth": 1.3},
 "encoding": {
  "x": {"field": "a", "type": "quantitative", "scale": {"domain": [0, 365], "nice": false, "zero": false},
        "axis": {"orient": "bottom", "offset": -594, "domain": false, "values": [10.1389,20.2778,40.5556,50.6944,70.9722,81.1111,101.3889,111.5278,131.8056,141.9444,162.2222,172.3611,192.6389,202.7778,223.0556,233.1944,253.4722,263.6111,283.8889,294.0278,314.3056,324.4444,344.7222,354.8611], "ticks": true, "tickSize": 6, "tickColor": "#666666", "labels": false, "grid": false, "title": "(4 x 4 km)", "titleFontSize": 15, "titleColor": "#111111", "titleAlign": "left", "titleBaseline": "middle", "titleX": -75, "titleY": -271}},
  "x2": {"field": "b"},
  "y": {"field": "h", "type": "quantitative", "scale": {"domain": [0, 100], "range": [247, 0], "nice": false, "zero": false},
        "axis": {"orient": "right", "domain": true, "domainColor": "#9a9a9a", "ticks": false, "labels": false, "grid": false, "title": null}}
 }}
],
"resolve": {"axis": {"x": "independent", "y": "independent"}}
},
{
"layer": [
{"data": {"name": "wd"}, "transform": [{"flatten": ["w"]}], "mark": {"type": "circle", "size": 17, "opacity": 1, "color": "#6b47ad"},
 "encoding": {
  "x": {"field": "d", "type": "quantitative", "scale": {"domain": [0, 365], "nice": false, "zero": false}, "axis": null},
  "y": {"field": "w", "type": "quantitative", "scale": {"domain": [0, 360], "range": [835, 576], "nice": false, "zero": false},
        "axis": {"orient": "right", "values": [0, 90, 180, 270, 360], "domain": true, "domainColor": "#888888", "ticks": false, "labelPadding": 9, "labelFontSize": 18, "labelColor": "#6d50a2", "labelFlush": true, "labelExpr": "datum.value == 270 ? '270 ∘' : datum.label", "grid": false, "title": "Směr větru", "titleColor": "#6d50a2", "titleFontSize": 17, "titleBaseline": "middle", "titleX": 64}}
 }},
{"data": {"values": []}, "mark": {"type": "circle", "opacity": 0},
 "encoding": {
  "y": {"field": "w", "type": "quantitative", "scale": {"domain": [0, 360], "range": [835, 576], "nice": false, "zero": false},
        "axis": {"orient": "right", "offset": 91, "values": [0, 90, 180, 270, 360], "domain": false, "ticks": false, "labelPadding": 0, "labelAlign": "center", "labelBaseline": "middle", "labelFlush": false, "labelFontSize": 26, "labelColor": "#6d50a2", "labelExpr": "datum.value == 90 ? '←' : datum.value == 180 ? '↑' : datum.value == 270 ? '→' : '↓'", "labelOffset": {"condition": [{"test": "datum.value == 0", "value": -19}, {"test": "datum.value == 180", "value": 10}, {"test": "datum.value == 360", "value": -7}], "value": 0}, "grid": false, "title": null}}
 }}
],
"resolve": {"axis": {"x": "independent", "y": "independent"}}
},
{
"layer": [
{"data": {"name": "wk"}, "mark": {"type": "line", "color": "#5f8f7f", "strokeWidth": 1.2},
 "encoding": {
  "x": {"field": "d", "type": "quantitative", "scale": {"domain": [0, 365], "nice": false, "zero": false},
        "axis": {"orient": "bottom", "offset": -294, "domain": false, "ticks": false, "values": [0,30.4167,60.8333,91.25,121.6667,152.0833,182.5,212.9167,243.3333,273.75,304.1667,334.5833], "labelExpr": "['Led.','Ún.','Břez.','Dub.','Květ.','Čer.','Čec.','Srp.','Zář.','Říj.','List.','Pros.'][round(datum.value/30.4167)]", "labelFontSize": 17, "labelColor": "#222222", "labelPadding": 7, "labelFlush": false, "labelAlign": "center", "labelBaseline": "top", "grid": false, "title": null}},
  "y": {"field": "vmean", "type": "quantitative", "scale": {"domain": [0, 95], "range": [835, 576], "nice": false, "zero": false},
        "axis": {"orient": "left", "domain": true, "domainColor": "#6d8a80", "ticks": false, "labels": false, "grid": false, "title": null}}
 }},
{"data": {"name": "wk"}, "mark": {"type": "line", "color": "#3e6f60", "strokeWidth": 2.6},
 "encoding": {
  "x": {"field": "d", "type": "quantitative", "scale": {"domain": [0, 365], "nice": false, "zero": false},
        "axis": {"orient": "bottom", "offset": -519, "domain": false, "ticks": false, "values": [0, 365], "labelExpr": "datum.value < 100 ? '2017' : '2018'", "labelFontSize": 17, "labelColor": "#222222", "labelPadding": 2, "labelFlush": false, "labelAlign": "center", "labelBaseline": "top", "grid": false, "title": null}},
  "y": {"field": "vmax", "type": "quantitative", "scale": {"domain": [0, 95], "range": [835, 576], "nice": false, "zero": false},
        "axis": {"orient": "left", "offset": -10, "values": [0,5,10,15,20,25,30,35,40,45,50,55,60,65,70,75,80,85,90], "tickSize": 10, "tickColor": "#5a5a5a", "domain": false, "labelExpr": "datum.value % 20 == 0 ? datum.label : ''", "labelPadding": 11, "labelFontSize": 18, "labelColor": "#4f7e6f", "labelFlush": true, "grid": true, "gridColor": "#333333", "gridDash": [1, 2], "gridOpacity": {"condition": {"test": "datum.value % 20 == 0 && datum.value > 0", "value": 0.9}, "value": 0}, "title": "Rychlost větru (km/h)", "titleColor": "#4f7e6f", "titleFontSize": 17, "titlePadding": 14}}
 }},
{"data": {"name": "wk"}, "mark": {"type": "line", "color": "#3e6f60", "strokeWidth": 2.6},
 "encoding": {
  "x": {"field": "d", "type": "quantitative", "scale": {"domain": [0, 365], "nice": false, "zero": false},
        "axis": {"orient": "top", "offset": -576, "domain": true, "domainColor": "#7a7a7a", "ticks": false, "labels": false, "grid": false, "title": null}},
  "y": {"field": "vmin", "type": "quantitative", "scale": {"domain": [0, 95], "range": [835, 576], "nice": false, "zero": false}, "axis": null}
 }},
{"data": {"values": [{"h": 15.5, "a": 0, "b": 365}]}, "mark": {"type": "rule", "color": "#55756b", "strokeWidth": 1},
 "encoding": {
  "x": {"field": "a", "type": "quantitative", "scale": {"domain": [0, 365], "nice": false, "zero": false},
        "axis": {"orient": "bottom", "offset": 0, "domain": true, "domainColor": "#4f6f66", "domainWidth": 1.5, "ticks": false, "labels": false, "grid": false, "title": null}},
  "x2": {"field": "b"},
  "y": {"field": "h", "type": "quantitative", "scale": {"domain": [0, 95], "range": [835, 576], "nice": false, "zero": false}, "axis": null}
 }}
],
"resolve": {"axis": {"x": "independent", "y": "independent"}}
}
],
"resolve": {"scale": {"y": "independent"}, "axis": {"x": "independent", "y": "independent"}}
}
